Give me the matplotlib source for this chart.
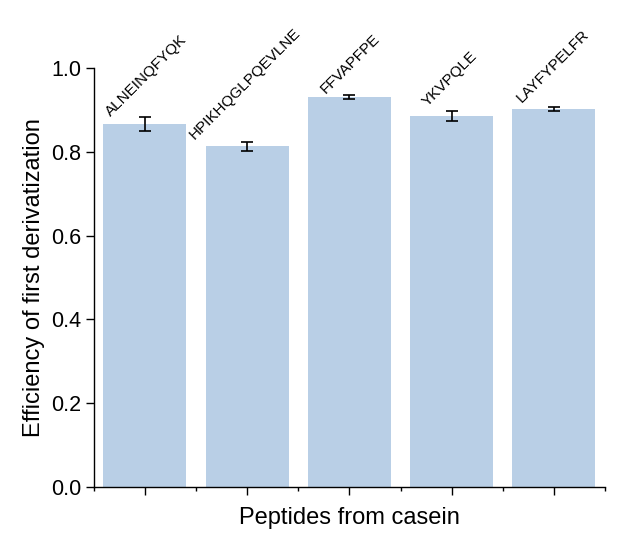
import matplotlib
matplotlib.use("Agg")
import matplotlib.pyplot as plt
import numpy as np

plt.rcParams['font.family'] = ['Liberation Sans', 'DejaVu Sans']

peptides = ["ALNEINQFYQK", "HPIKHQGLPQEVLNE", "FFVAPFPE", "YKVPQLE", "LAYFYPELFR"]
efficiency = [0.866, 0.813, 0.931, 0.885, 0.903]
errors = [0.016, 0.010, 0.004, 0.012, 0.005]

# label anchor offsets (layout)
label_dx = [-0.31, -0.49, -0.21, -0.21, -0.29]
label_dy = [-0.004, 0.000, -0.002, 0.005, 0.004]

fig = plt.figure(figsize=(6.25, 5.33), dpi=100)
ax = fig.add_axes([0.150, 0.0863, 0.818, 0.786])

x = np.arange(len(peptides))
ax.bar(x, efficiency, width=0.81, color='#b9cfe6', zorder=1)
ax.errorbar(x, efficiency, yerr=errors, fmt='none', ecolor='black',
            elinewidth=1.2, capsize=4, capthick=1.2, zorder=2)

for i, (p, v, e) in enumerate(zip(peptides, efficiency, errors)):
    ax.text(i + label_dx[i], v + e + label_dy[i], p, rotation=45,
            rotation_mode='anchor', ha='left', va='bottom', fontsize=11)

ax.set_xlim(-0.5, 4.5)
ax.set_ylim(0, 1.0)
ax.set_xticks(x)
ax.set_xticklabels([])
ax.set_xticks(np.arange(-0.5, 5.0, 1.0), minor=True)
ax.set_yticks(np.arange(0, 1.01, 0.2))
ax.set_yticklabels([f"{v:.1f}" for v in np.arange(0, 1.01, 0.2)])
ax.tick_params(axis='x', which='major', direction='out', length=6, width=1)
ax.tick_params(axis='x', which='minor', direction='out', length=3, width=1)
ax.tick_params(axis='y', which='major', direction='out', length=6, width=1,
               labelsize=15.5, pad=3)
for s in ['top', 'right']:
    ax.spines[s].set_visible(False)
for s in ['left', 'bottom']:
    ax.spines[s].set_linewidth(1)

ax.set_ylabel("Efficiency of first derivatization", fontsize=17, labelpad=4)
ax.set_xlabel("Peptides from casein", fontsize=17, labelpad=5)

fig.savefig("out.png", dpi=100)
